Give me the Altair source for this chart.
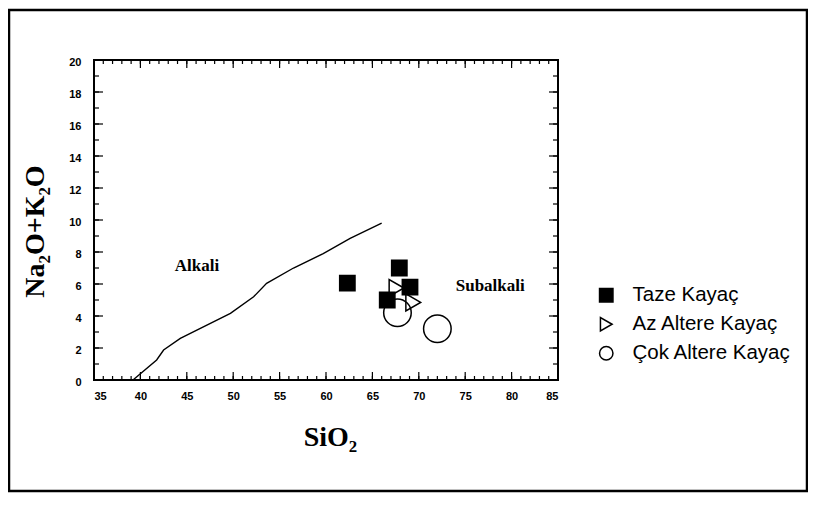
import altair as alt
import pandas as pd

# Divider line (Alkali / Subalkali)
line_sio2 = [39.2, 41.75, 42.5, 44.3, 49.7, 52.2, 53.6, 56.5, 59.7, 62.6, 66.0]
line_alk = [0.0, 1.25, 1.875, 2.6, 4.17, 5.2, 6.04, 7.0, 7.9, 8.85, 9.8]

# Samples
taze_sio2 = [62.3, 67.9, 69.05, 66.6]
taze_alk = [6.05, 7.0, 5.8, 5.0]
az_sio2 = [67.6, 69.4]
az_alk = [5.75, 4.85]
cok_sio2 = [67.7, 72.0]
cok_alk = [4.2, 3.2]

series = ["Taze Kayaç", "Az Altere Kayaç", "Çok Altere Kayaç"]

# Region labels
region_text = ["Alkali", "Subalkali"]
region_sio2 = [46.1, 77.7]
region_alk = [7.1, 5.9]

x_major = list(range(35, 86, 5))
x_minor = list(range(35, 86, 1))
y_major = list(range(0, 21, 2))
y_minor = list(range(0, 21, 1))

W, H = 464, 320

rows = []
for s, xv, yv in [(series[2], cok_sio2, cok_alk), (series[1], az_sio2, az_alk), (series[0], taze_sio2, taze_alk)]:
    for a, b in zip(xv, yv):
        rows.append({"sio2": a, "alk": b, "grup": s})
pts = pd.DataFrame(rows)

line_df = pd.DataFrame({"sio2": line_sio2, "alk": line_alk, "i": range(len(line_sio2))})
reg_df = pd.DataFrame({"t": region_text, "sio2": region_sio2, "alk": region_alk})

xs = alt.Scale(domain=[35, 85], nice=False, zero=False)
ys = alt.Scale(domain=[0, 20], nice=False, zero=False)

x_axis = alt.Axis(values=x_major, title="SiO₂", titleX=236, titleY=65,
                  titleBaseline="alphabetic", titleFont="Liberation Serif",
                  titleFontSize=28, titleFontWeight="bold", titleColor="black",
                  labelPadding=10, labelOverlap=False, grid=False, ticks=False, domain=False)
y_axis = alt.Axis(values=y_major, title="Na₂O+K₂O", titleX=-51, titleY=171,
                  titleBaseline="alphabetic", titleFont="Liberation Serif",
                  titleFontSize=28, titleFontWeight="bold", titleColor="black",
                  labelPadding=13, labelOffset=2, labelOverlap=False, grid=False, ticks=False, domain=False)

def X(f):
    return alt.X(f, scale=xs, axis=x_axis)

def Y(f):
    return alt.Y(f, scale=ys, axis=y_axis)

line = alt.Chart(line_df).mark_line(color="black", strokeWidth=1.4).encode(
    x=X("sio2:Q"), y=Y("alk:Q"), order="i:Q",
)

shape_scale = alt.Scale(domain=series, range=["square", "triangle-right", "circle"])
fill_scale = alt.Scale(domain=series, range=["black", "transparent", "transparent"])
stroke_scale = alt.Scale(domain=series, range=["black", "black", "black"])
leg = alt.Legend(title=None, orient="none", legendX=502, legendY=225)

def point_layer(name, size):
    return alt.Chart(pts).transform_filter(alt.datum.grup == name).mark_point(
        filled=False, strokeWidth=1.5, opacity=1, size=size).encode(
        x=X("sio2:Q"),
        y=Y("alk:Q"),
        shape=alt.Shape("grup:N", scale=shape_scale, legend=leg),
        fill=alt.Fill("grup:N", scale=fill_scale, legend=leg),
        stroke=alt.Stroke("grup:N", scale=stroke_scale, legend=leg),
    )

regions = alt.Chart(reg_df).mark_text(font="Liberation Serif", fontWeight="bold", fontSize=17,
                                      color="black").encode(
    x=X("sio2:Q"), y=Y("alk:Q"), text="t:N")

def xticks(vals, ln):
    d = pd.DataFrame({"v": vals})
    top = alt.Chart(d).mark_rule(color="black", strokeWidth=1.2).encode(
        x=X("v:Q"), y=alt.value(0), y2=alt.value(ln))
    bot = alt.Chart(d).mark_rule(color="black", strokeWidth=1.2).encode(
        x=X("v:Q"), y=alt.value(H), y2=alt.value(H - ln))
    return top + bot

def yticks(vals, ln):
    d = pd.DataFrame({"v": vals})
    left = alt.Chart(d).mark_rule(color="black", strokeWidth=1.2).encode(
        y=Y("v:Q"), x=alt.value(0), x2=alt.value(ln))
    right = alt.Chart(d).mark_rule(color="black", strokeWidth=1.2).encode(
        y=Y("v:Q"), x=alt.value(W), x2=alt.value(W - ln))
    return left + right

frame = alt.Chart(pd.DataFrame({"k": [0]})).mark_rect(fill="transparent", stroke="black",
                                                      strokeWidth=2.5).encode(
    x=alt.value(-85), x2=alt.value(713), y=alt.value(-50), y2=alt.value(431))

chart = alt.layer(
    frame,
    xticks(x_minor, 4), xticks(x_major, 8), yticks(y_minor, 5), yticks(y_major, 9),
    line, regions,
    point_layer(series[2], 760), point_layer(series[1], 290), point_layer(series[0], 235),
).properties(
    width=W, height=H,
    background="white",
    autosize=alt.AutoSizeParams(type="none"),
    padding={"left": 86, "top": 52, "right": 250, "bottom": 113},
).configure_view(
    stroke="black", strokeWidth=2
).configure_axis(
    domain=False, ticks=False, grid=False,
    labelFont="Liberation Sans", labelFontWeight="bold", labelFontSize=11, labelColor="black",
).configure_legend(
    labelFont="Liberation Sans", labelFontSize=20.5, labelColor="black", labelLimit=400,
    symbolSize=180, symbolStrokeColor="black", symbolStrokeWidth=1.5,
    rowPadding=8, labelOffset=16, padding=0,
)

chart.save("out.html", embed_options={"renderer": "svg", "actions": False})
